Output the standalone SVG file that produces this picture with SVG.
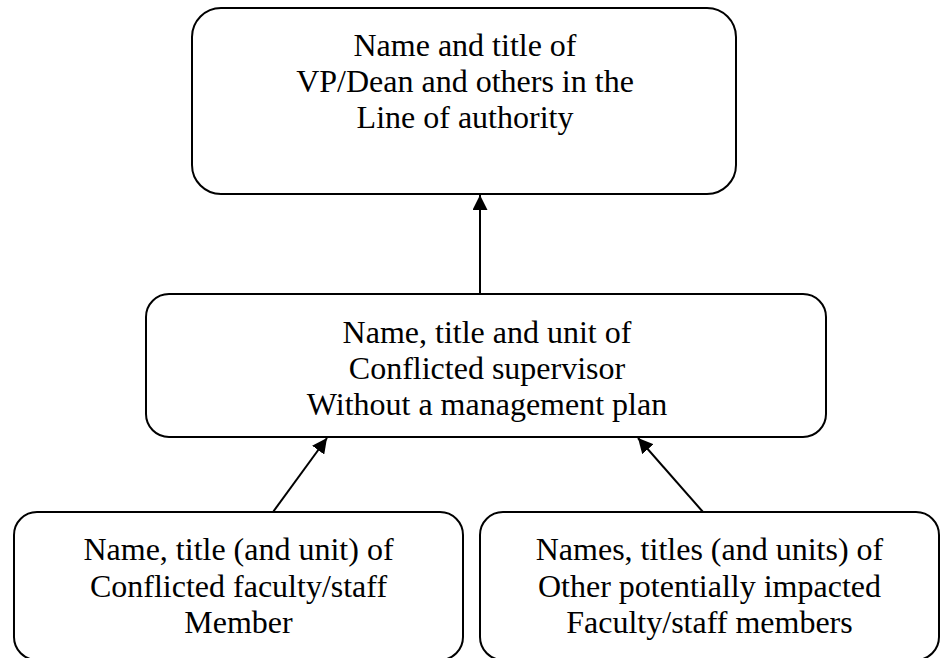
<svg xmlns="http://www.w3.org/2000/svg" width="941" height="658" viewBox="0 0 941 658">
<style>
.box{fill:#fff;stroke:#000;stroke-width:2}
.t{font-size:32px;fill:#000;text-anchor:middle}
.c{stroke:#000;stroke-width:2;fill:none;marker-end:url(#ah)}
</style>
<defs>
<marker id="ah" viewBox="0 0 10 10" refX="10" refY="5" markerUnits="userSpaceOnUse" markerWidth="15" markerHeight="15" orient="auto">
<path d="M0,0 L10,5 L0,10 Z" fill="#000"/>
</marker>
</defs>
<rect width="941" height="658" fill="#fff"/>
<g font-family="Liberation Serif, DejaVu Serif, Times New Roman, serif">
<g id="n-top">
<rect class="box" x="192" y="8" width="544" height="186" rx="29"/>
<text class="t" x="465" y="56">Name and title of</text>
<text class="t" x="465" y="92">VP/Dean and others in the</text>
<text class="t" x="465" y="128">Line of authority</text>
</g>
<g id="n-mid">
<rect class="box" x="146" y="294" width="680" height="143" rx="23"/>
<text class="t" x="487" y="343">Name, title and unit of</text>
<text class="t" x="487" y="379">Conflicted supervisor</text>
<text class="t" x="487" y="415">Without a management plan</text>
</g>
<g id="n-left">
<rect class="box" x="14" y="512" width="449" height="148" rx="23"/>
<text class="t" x="238.5" y="560">Name, title (and unit) of</text>
<text class="t" x="238.5" y="597">Conflicted faculty/staff</text>
<text class="t" x="238.5" y="633">Member</text>
</g>
<g id="n-right">
<rect class="box" x="480" y="512" width="459" height="148" rx="23"/>
<text class="t" x="709.5" y="560">Names, titles (and units) of</text>
<text class="t" x="709.5" y="597">Other potentially impacted</text>
<text class="t" x="709.5" y="633">Faculty/staff members</text>
</g>
</g>
<g id="connectors">
<line class="c" x1="480" y1="294" x2="480" y2="195"/>
<line class="c" x1="273" y1="512" x2="327" y2="438"/>
<line class="c" x1="703" y1="512" x2="638" y2="438"/>
</g>
</svg>
